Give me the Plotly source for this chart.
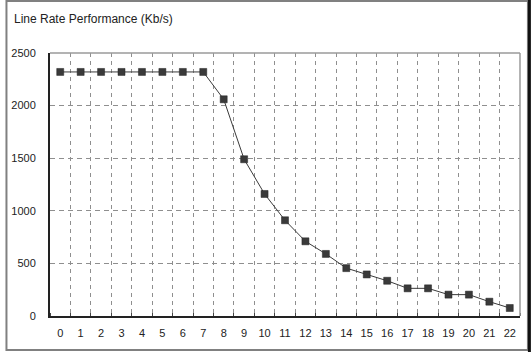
import plotly.graph_objects as go

categories = list(range(23))
rates = [2320, 2320, 2320, 2320, 2320, 2320, 2320, 2320, 2060, 1490, 1160, 910,
         710, 590, 455, 395, 335, 263, 263, 203, 203, 136, 76]
y_ticks = [0, 500, 1000, 1500, 2000, 2500]
title_text = "Line Rate Performance (Kb/s)"

W, H = 531, 352
ML, MR, MT, MB = 45, 11, 53, 36
PW, PH = W - ML - MR, H - MT - MB

def px(x):
    return (x - ML) / PW

def py(y):
    return (H - MB - y) / PH

fig = go.Figure()
fig.add_trace(go.Scatter(
    x=categories, y=rates, mode="lines+markers",
    line=dict(color="#3a3a3a", width=1),
    marker=dict(symbol="square", size=7, color="#3a3a3a",
                line=dict(color="#222", width=0.5)),
    showlegend=False, hoverinfo="x+y",
))

font = "Liberation Sans, Arial, sans-serif"
fig.update_layout(
    width=W, height=H,
    margin=dict(l=ML, r=MR, t=MT, b=MB),
    paper_bgcolor="white", plot_bgcolor="white",
    xaxis=dict(
        range=[-0.5, 22.5], tickmode="array", tickvals=categories,
        ticktext=[str(c) for c in categories], showgrid=False, zeroline=False,
        showline=True, linecolor="#222", linewidth=2,
        ticks="", ticklabelstandoff=6,
        tickfont=dict(family=font, size=11, color="#222"),
        minor=dict(tick0=0.5, dtick=1, showgrid=True, gridcolor="#8f8f8f",
                   griddash="4px,4px", gridwidth=1, ticks="inside", ticklen=3,
                   tickcolor="#444"),
    ),
    yaxis=dict(
        range=[0, 2500], tickmode="array", tickvals=y_ticks,
        showgrid=True, gridcolor="#8f8f8f", griddash="5px,4px", gridwidth=1,
        zeroline=False, showline=True, linecolor="#222", linewidth=2,
        ticks="", ticklabelstandoff=10,
        tickfont=dict(family=font, size=11, color="#222"),
    ),
    shapes=[
        dict(type="line", xref="paper", yref="paper", x0=0, x1=1, y0=1, y1=1,
             line=dict(color="#9a9a9a", width=1.5)),
        dict(type="line", xref="paper", yref="paper", x0=1, x1=1, y0=0, y1=1,
             line=dict(color="#9a9a9a", width=1.5)),
        dict(type="rect", xref="paper", yref="paper",
             x0=px(1), x1=px(528), y0=py(1), y1=py(350),
             line=dict(color="#808080", width=2)),
        dict(type="line", xref="paper", yref="paper",
             x0=px(529.5), x1=px(529.5), y0=py(0), y1=py(352),
             line=dict(color="#111", width=3)),
    ],
    annotations=[
        dict(text=title_text, xref="paper", yref="paper", x=px(7), y=py(19),
             xanchor="left", yanchor="middle", showarrow=False,
             font=dict(family=font, size=12, color="#222")),
    ],
)

fig.write_html("out.html")
